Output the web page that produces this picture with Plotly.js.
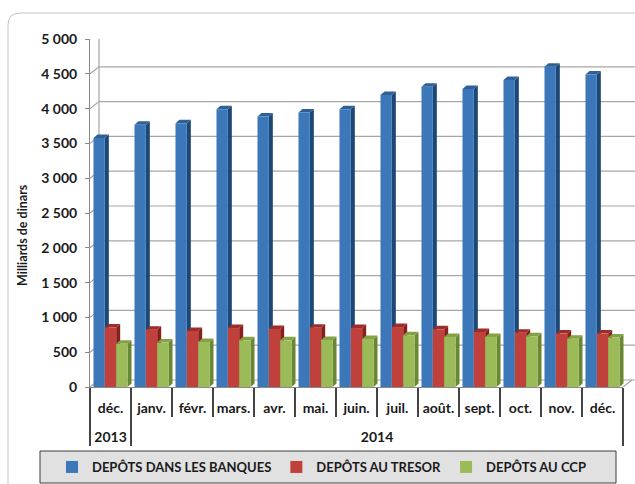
<!DOCTYPE html>
<html>
<head>
<meta charset="utf-8">
<script src="https://cdn.plot.ly/plotly-3.0.1.min.js"></script>
<style>html,body{margin:0;padding:0;background:#fff;}#chart{width:635px;height:484px;}</style>
</head>
<body>
<div id="chart"></div>
<script>
// ---- data ----
// year labels start with a line break so they sit on a second row below the month row
const yearLabels = ['<br>2013','<br>2014','<br>2014','<br>2014','<br>2014','<br>2014','<br>2014','<br>2014','<br>2014','<br>2014','<br>2014','<br>2014','<br>2014'];
// the 2014 "déc." carries a zero-width space so that the category axis keeps its own slot
const months = ['déc.','janv.','févr.','mars.','avr.','mai.','juin.','juil.','août.','sept.','oct.','nov.','déc.\u200B'];
const banques = [3576,3767,3790,3990,3886,3943,3990,4195,4314,4281,4410,4600,4490];
const tresor  = [855,824,805,847,835,853,847,861,829,790,781,767,767];
const ccp     = [620,638,647,671,671,676,690,743,719,719,729,695,710];
const seriesNames = ['DEPÔTS DANS LES BANQUES','DEPÔTS AU TRESOR','DEPÔTS AU CCP'];
const yTicks = [0,500,1000,1500,2000,2500,3000,3500,4000,4500,5000];

// ---- styling / geometry ----
const W = 635, H = 484;
const L = 90, R = 623, T = 39, B = 387;
const yMax = 5000;
const nCat = months.length;
const pxY = (B - T) / yMax;
const frontCol = ['#3c78b9','#c0413b','#9bbb59'];
const sideCol  = ['#1d4775','#87201d','#6a8732'];
const topCol   = ['#2f6197','#9e2c28','#84a244'];
const bargap = 0.17;
const FONT = 'Lato, "Open Sans", "DejaVu Sans", sans-serif';

const xp = px => (px - L) / (R - L);      // pixel -> paper x
const yp = py => (B - py) / (B - T);      // pixel -> paper y
const catToPaper = c => (c + 0.5) / nCat;

const all = [banques, tresor, ccp];
const traces = all.map((vals, k) => ({
  type: 'bar',
  name: seriesNames[k],
  x: [yearLabels, months],
  y: vals,
  marker: {color: frontCol[k], line: {width: 0}},
  hoverinfo: 'y'
}));

const shapes = [];
// outer rounded frame
shapes.push({type:'path', xref:'paper', yref:'paper', layer:'below',
  path:`M${xp(8)},${yp(500)} L${xp(8)},${yp(25)} Q${xp(8)},${yp(13)} ${xp(20)},${yp(13)} L${xp(660)},${yp(13)}`,
  line:{color:'#c4c4c4', width:1}});
// legend box
shapes.push({type:'rect', xref:'paper', yref:'paper', layer:'below',
  x0:xp(40), x1:xp(616), y0:yp(483), y1:yp(451),
  fillcolor:'#e1e1e1', line:{color:'#3c3c3c', width:1}});

// back wall gridlines (3D depth)
const gdx = 9 / (R - L), gdy = 7 / pxY;
yTicks.forEach(v => {
  shapes.push({type:'path', xref:'paper', yref:'y', layer:'below',
    path:`M0,${v} L${gdx},${v + gdy} L${xp(660)},${v + gdy}`,
    line:{color:'#a6a6a6', width:1.2}});
});
shapes.push({type:'path', xref:'paper', yref:'y', layer:'below',
  path:`M${gdx},${gdy} L${gdx},${yMax + gdy}`, line:{color:'#a6a6a6', width:1.2}});
shapes.push({type:'path', xref:'paper', yref:'y', layer:'below',
  path:`M1,0 L${1 + gdx},${gdy}`, line:{color:'#a6a6a6', width:1.2}});

// 3D faces of bars
const bw = (1 - bargap) / 3;
const ddx = 4 / (R - L), ddy = 3.5 / pxY;
all.forEach((vals, k) => {
  vals.forEach((v, i) => {
    const x0 = catToPaper(i - (1 - bargap) / 2 + k * bw);
    const x1 = catToPaper(i - (1 - bargap) / 2 + (k + 1) * bw);
    shapes.push({type:'path', xref:'paper', yref:'y', layer:'between',
      path:`M${x1},0 L${x1 + ddx},${ddy} L${x1 + ddx},${v + ddy} L${x1},${v} Z`,
      fillcolor: sideCol[k], line:{width:0}});
    shapes.push({type:'path', xref:'paper', yref:'y', layer:'between',
      path:`M${x0},${v} L${x1},${v} L${x1 + ddx},${v + ddy} L${x0 + ddx},${v + ddy} Z`,
      fillcolor: topCol[k], line:{width:0}});
  });
});

const layout = {
  width: W, height: H, autosize: false,
  margin: {l: L, r: W - R, t: T, b: H - B, pad: 0, autoexpand: false},
  paper_bgcolor: '#ffffff', plot_bgcolor: 'rgba(0,0,0,0)',
  separators: ', ',
  barmode: 'group', bargap: bargap, bargroupgap: 0,
  font: {family: FONT, color: '#1a1a1a'},
  showlegend: true,
  legend: {orientation: 'h', xref: 'paper', yref: 'paper',
    x: xp(52), xanchor: 'left', y: yp(467), yanchor: 'middle',
    bgcolor: 'rgba(0,0,0,0)', borderwidth: 0, traceorder: 'normal',
    font: {family: FONT, size: 13, weight: 700, color: '#1a1a1a'}},
  xaxis: {type: 'multicategory', range: [-0.5, nCat - 0.5], showgrid: false, zeroline: false,
    showline: true, linecolor: '#8a8a8a', linewidth: 1, tickangle: 0,
    ticks: 'outside', tickson: 'boundaries', ticklen: 29, tickcolor: '#444', tickwidth: 1.2,
    ticklabelstandoff: 8,
    showdividers: true, dividercolor: '#444', dividerwidth: 1.2,
    tickfont: {family: FONT, size: 14, weight: 700, color: '#1a1a1a'}},
  yaxis: {range: [0, yMax], tickvals: yTicks, tickformat: ',d', showgrid: false, zeroline: false,
    showline: true, linecolor: '#8a8a8a', linewidth: 1,
    ticks: 'outside', ticklen: 4, tickcolor: '#8a8a8a', ticklabelstandoff: 5,
    tickfont: {family: FONT, size: 14, weight: 700, color: '#1a1a1a'}},
  annotations: [{text: 'Milliards de dinars', xref: 'paper', yref: 'paper',
    x: xp(22), y: yp(235), textangle: -90, showarrow: false, xanchor: 'center', yanchor: 'middle',
    font: {family: FONT, size: 12.5, weight: 700, color: '#1a1a1a'}}],
  shapes: shapes
};

Plotly.newPlot('chart', traces, layout, {staticPlot: true, displayModeBar: false});
</script>
</body>
</html>
